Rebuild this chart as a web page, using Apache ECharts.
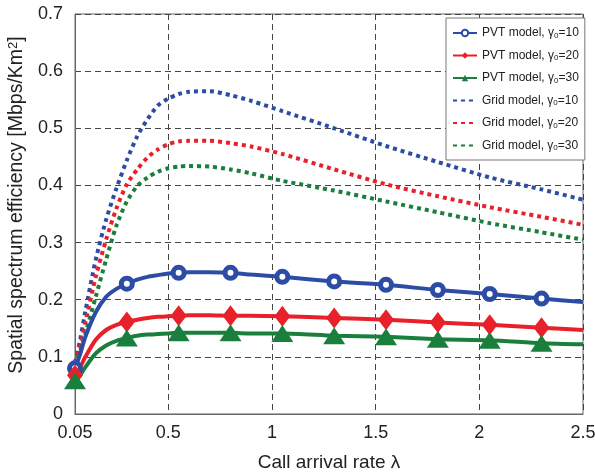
<!DOCTYPE html>
<html>
<head>
<meta charset="utf-8">
<script src="https://cdn.jsdelivr.net/npm/echarts@6/dist/echarts.min.js"></script>
<style>html,body{margin:0;padding:0;background:#fff;}#c{width:595px;height:472px;}</style>
</head>
<body>
<div id="c"></div>
<script>
// ---- data ----
const lambda = [0.05, 0.075, 0.1, 0.15, 0.2, 0.25, 0.3, 0.35, 0.4, 0.45, 0.5, 0.55, 0.6, 0.7, 0.8, 0.9, 1.05, 1.3, 1.55, 1.8, 2.05, 2.3, 2.5];
const markerLambda = [0.05, 0.3, 0.55, 0.8, 1.05, 1.3, 1.55, 1.8, 2.05, 2.3];
const xTicks = [0.05, 0.5, 1, 1.5, 2, 2.5];

const pvt10 = [0.080, 0.105, 0.135, 0.178, 0.205, 0.219, 0.228, 0.235, 0.240, 0.243, 0.246, 0.247, 0.248, 0.248, 0.247, 0.244, 0.240, 0.232, 0.226, 0.217, 0.210, 0.202, 0.196];
const pvt20 = [0.068, 0.082, 0.100, 0.130, 0.147, 0.156, 0.161, 0.165, 0.168, 0.170, 0.171, 0.172, 0.173, 0.173, 0.172, 0.172, 0.171, 0.168, 0.165, 0.160, 0.156, 0.151, 0.147];
const pvt30 = [0.058, 0.068, 0.082, 0.106, 0.120, 0.128, 0.133, 0.137, 0.139, 0.140, 0.141, 0.142, 0.142, 0.142, 0.142, 0.141, 0.141, 0.137, 0.135, 0.131, 0.129, 0.124, 0.122];
const grid10 = [0.090, 0.130, 0.180, 0.270, 0.340, 0.395, 0.444, 0.486, 0.516, 0.540, 0.552, 0.560, 0.564, 0.565, 0.558, 0.548, 0.530, 0.500, 0.469, 0.441, 0.414, 0.393, 0.375];
const grid20 = [0.088, 0.120, 0.160, 0.240, 0.305, 0.360, 0.402, 0.428, 0.449, 0.463, 0.472, 0.477, 0.478, 0.478, 0.474, 0.468, 0.455, 0.428, 0.402, 0.381, 0.362, 0.345, 0.331];
const grid30 = [0.085, 0.110, 0.140, 0.205, 0.270, 0.330, 0.372, 0.399, 0.414, 0.424, 0.430, 0.433, 0.434, 0.433, 0.428, 0.421, 0.408, 0.391, 0.372, 0.353, 0.334, 0.318, 0.305];

const names = ['PVT model, γ0=10', 'PVT model, γ0=20', 'PVT model, γ0=30', 'Grid model, γ0=10', 'Grid model, γ0=20', 'Grid model, γ0=30'];
const BLUE = '#2D4CA5', RED = '#E8202A', GREEN = '#1A7F3C';

function build(ys, markers) {
  return lambda.map((x, i) => {
    const it = { value: [x, ys[i]] };
    if (markers && !markerLambda.some(m => Math.abs(m - x) < 1e-9)) it.symbol = 'none';
    return it;
  });
}

function pvtSeries(name, ys, color, symbol, size, hollow) {
  return {
    name, type: 'line', data: build(ys, true), smooth: 0.25,
    symbol, symbolSize: size, showSymbol: true,
    lineStyle: { color, width: 4 },
    itemStyle: hollow ? { color: '#fff', borderColor: color, borderWidth: 5 } : { color, borderColor: color, borderWidth: 0 },
    z: 3
  };
}
function gridSeries(name, ys, color) {
  return {
    name, type: 'line', data: build(ys, false), smooth: 0.25,
    symbol: 'none', showSymbol: false,
    lineStyle: { color, width: 4, type: [4, 4], cap: 'butt' },
    itemStyle: { color },
    z: 2
  };
}

const chart = echarts.init(document.getElementById('c'), null, { renderer: 'canvas' });
chart.setOption({
  animation: false,
  backgroundColor: '#fff',
  grid: { left: 75, right: 12, top: 14, bottom: 58, show: true, borderColor: '#666', borderWidth: 1,
    containLabel: false, outerBoundsMode: 'none' },
  legend: {
    orient: 'vertical', left: 446, top: 18,
    padding: [9, 6, 8, 6], itemGap: 10, itemWidth: 24, itemHeight: 8,
    backgroundColor: '#fff', borderColor: '#777', borderWidth: 1,
    data: names.map((n, i) => i < 3 ? { name: n } : { name: n, itemStyle: { opacity: 0 } }),
    formatter: n => n.replace('γ0', 'γ{sub|0}'),
    textStyle: {
      fontFamily: 'Liberation Sans', fontSize: 12, color: '#222',
      rich: { sub: { fontFamily: 'Liberation Sans', fontSize: 8, color: '#222', verticalAlign: 'bottom', padding: [5, 0, 0, 0] } }
    }
  },
  xAxis: {
    type: 'value', min: 0.05, max: 2.5,
    name: 'Call arrival rate λ', nameLocation: 'middle', nameGap: 39,
    nameTextStyle: { fontFamily: 'Liberation Sans', fontSize: 19, color: '#222' },
    axisLine: { show: true, lineStyle: { color: '#666', width: 1 } },
    axisTick: { show: false, customValues: xTicks },
    axisLabel: { customValues: xTicks, fontFamily: 'Liberation Sans', fontSize: 18, color: '#222', margin: 10,
      formatter: v => String(v) },
    splitLine: { show: true, lineStyle: { color: '#444', type: [6, 4], width: 1 } }
  },
  yAxis: {
    type: 'value', min: 0, max: 0.7, interval: 0.1,
    name: 'Spatial spectrum efficiency [Mbps/Km{sup|2}]', nameLocation: 'middle', nameGap: 41,
    nameTextStyle: { fontFamily: 'Liberation Sans', fontSize: 19.5, color: '#222', padding: [0, 0, 0, 18],
      rich: { sup: { fontFamily: 'Liberation Sans', fontSize: 13, color: '#222', verticalAlign: 'top', padding: [0, 0, 8, 0] } } },
    axisLine: { show: true, lineStyle: { color: '#666', width: 1 } },
    axisTick: { show: false },
    axisLabel: { fontFamily: 'Liberation Sans', fontSize: 18, color: '#222', margin: 12,
      formatter: v => v === 0 ? '0' : v.toFixed(1) },
    splitLine: { show: true, lineStyle: { color: '#444', type: [6, 4], width: 1 } }
  },
  series: [
    pvtSeries(names[0], pvt10, BLUE, 'circle', 11, true),
    pvtSeries(names[1], pvt20, RED, 'diamond', [16, 21], false),
    pvtSeries(names[2], pvt30, GREEN, 'triangle', [22, 17], false),
    gridSeries(names[3], grid10, BLUE),
    gridSeries(names[4], grid20, RED),
    gridSeries(names[5], grid30, GREEN)
  ]
});
</script>
</body>
</html>
